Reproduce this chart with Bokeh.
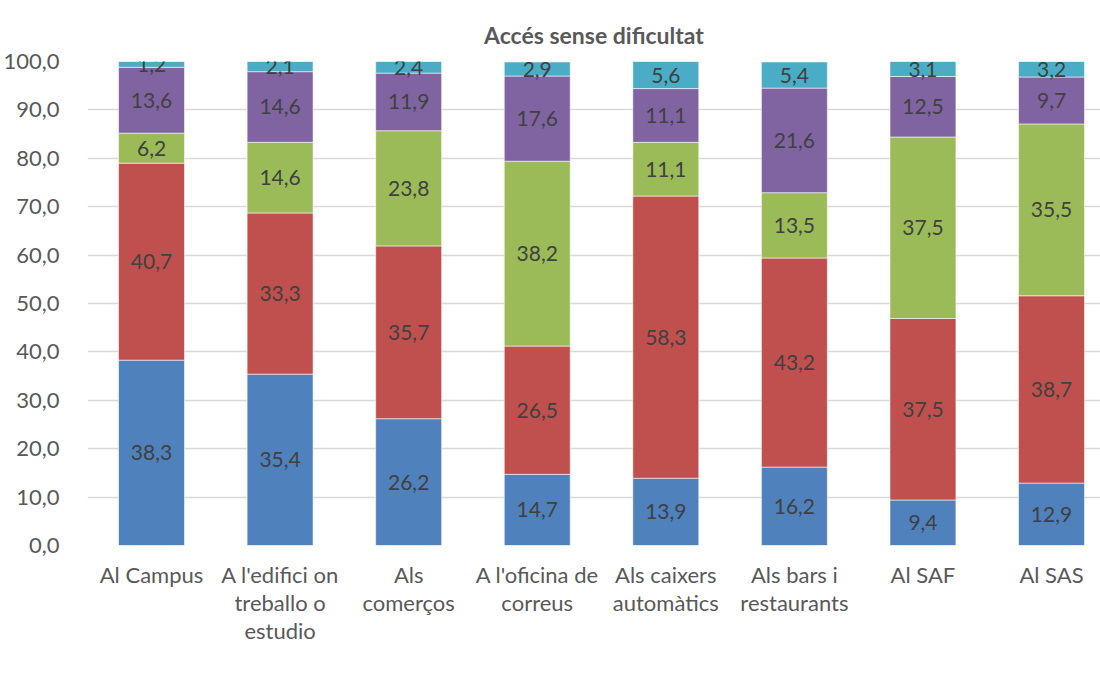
from bokeh.plotting import figure
from bokeh.models import (ColumnDataSource, Range1d, FixedTicker, Legend, LegendItem)
from bokeh.core.properties import value
from bokeh.embed import file_html
from bokeh.resources import INLINE

categories = ["Al Campus", "A l'edifici on\ntreballo o\nestudio", "Als\ncomerços",
              "A l'oficina de\ncorreus", "Als caixers\nautomàtics", "Als bars i\nrestaurants",
              "Al SAF", "Al SAS"]
series_names = ["Totalment d'acord", "D'acord", "Ni d'acord ni en desacord",
                "En desacord", "Totalment en desacord"]
totalment_acord = [38.3, 35.4, 26.2, 14.7, 13.9, 16.2, 9.4, 12.9]
acord = [40.7, 33.3, 35.7, 26.5, 58.3, 43.2, 37.5, 38.7]
ni_ni = [6.2, 14.6, 23.8, 38.2, 11.1, 13.5, 37.5, 35.5]
desacord = [13.6, 14.6, 11.9, 17.6, 11.1, 21.6, 12.5, 9.7]
totalment_desacord = [1.2, 2.1, 2.4, 2.9, 5.6, 5.4, 3.1, 3.2]
y_ticks = [0, 10, 20, 30, 40, 50, 60, 70, 80, 90, 100]

colors = ["#4F81BD", "#C0504D", "#9BBB59", "#8064A2", "#4BACC6"]
series = [totalment_acord, acord, ni_ni, desacord, totalment_desacord]
keys = ["s0", "s1", "s2", "s3", "s4"]

FONT = "Lato"
GREY = "#595959"

xs = list(range(len(categories)))
data = {"x": xs}
for k, s in zip(keys, series):
    data[k] = s
source = ColumnDataSource(data)

p = figure(frame_width=1013, frame_height=484, output_backend="svg", toolbar_location=None,
           x_range=Range1d(-0.498, 7.381), y_range=Range1d(0, 100),
           min_border_left=87, min_border_right=0, min_border_top=61, min_border_bottom=0)
p.title.text = "Accés sense dificultat"
p.title.align = "center"
p.title.text_font = FONT
p.title.text_font_size = "23px"
p.title.text_font_style = "bold"
p.title.text_color = GREY
p.title.standoff = 26

renderers = p.vbar_stack(keys, x="x", width=0.513, color=colors, source=source,
                         line_color="white", line_width=0.8, line_alpha=0.7)

# data labels
lx, ly, lt = [], [], []
for i in xs:
    base = 0.0
    for s in series:
        v = s[i]
        lx.append(i)
        ly.append(base + v / 2)
        lt.append(f"{v:.1f}".replace(".", ","))
        base += v
p.text(x=lx, y=ly, text=lt, text_align="center", text_baseline="middle",
       text_font=value(FONT), text_font_size="21px", text_color="#404040")

# axes
p.xaxis.ticker = FixedTicker(ticks=xs)
p.xaxis.major_label_overrides = {i: c for i, c in enumerate(categories)}
p.yaxis.ticker = FixedTicker(ticks=y_ticks)
p.yaxis.major_label_overrides = {t: f"{t:.1f}".replace(".", ",") for t in y_ticks}
for ax in (p.xaxis[0], p.yaxis[0]):
    ax.axis_line_color = None
    ax.major_tick_line_color = None
    ax.minor_tick_line_color = None
    ax.major_label_text_font = FONT
    ax.major_label_text_font_size = "22px"
    ax.major_label_text_color = GREY
p.xaxis.major_label_standoff = 9
p.xaxis.major_label_text_line_height = 1.04
p.yaxis.major_label_standoff = 22

p.xgrid.grid_line_color = None
p.ygrid.grid_line_color = "#D9D9D9"
p.ygrid.grid_line_width = 1.5
p.outline_line_color = None

legend = Legend(items=[LegendItem(label=n, renderers=[r]) for n, r in zip(series_names, renderers)],
                orientation="horizontal", location="center",
                glyph_width=13, glyph_height=13, label_standoff=6, spacing=14,
                label_text_font=FONT, label_text_font_size="21px", label_text_color=GREY,
                border_line_color=None, background_fill_alpha=0, padding=0, margin=0)
p.add_layout(legend, "below")

open("out.html", "w").write(file_html(p, INLINE))
